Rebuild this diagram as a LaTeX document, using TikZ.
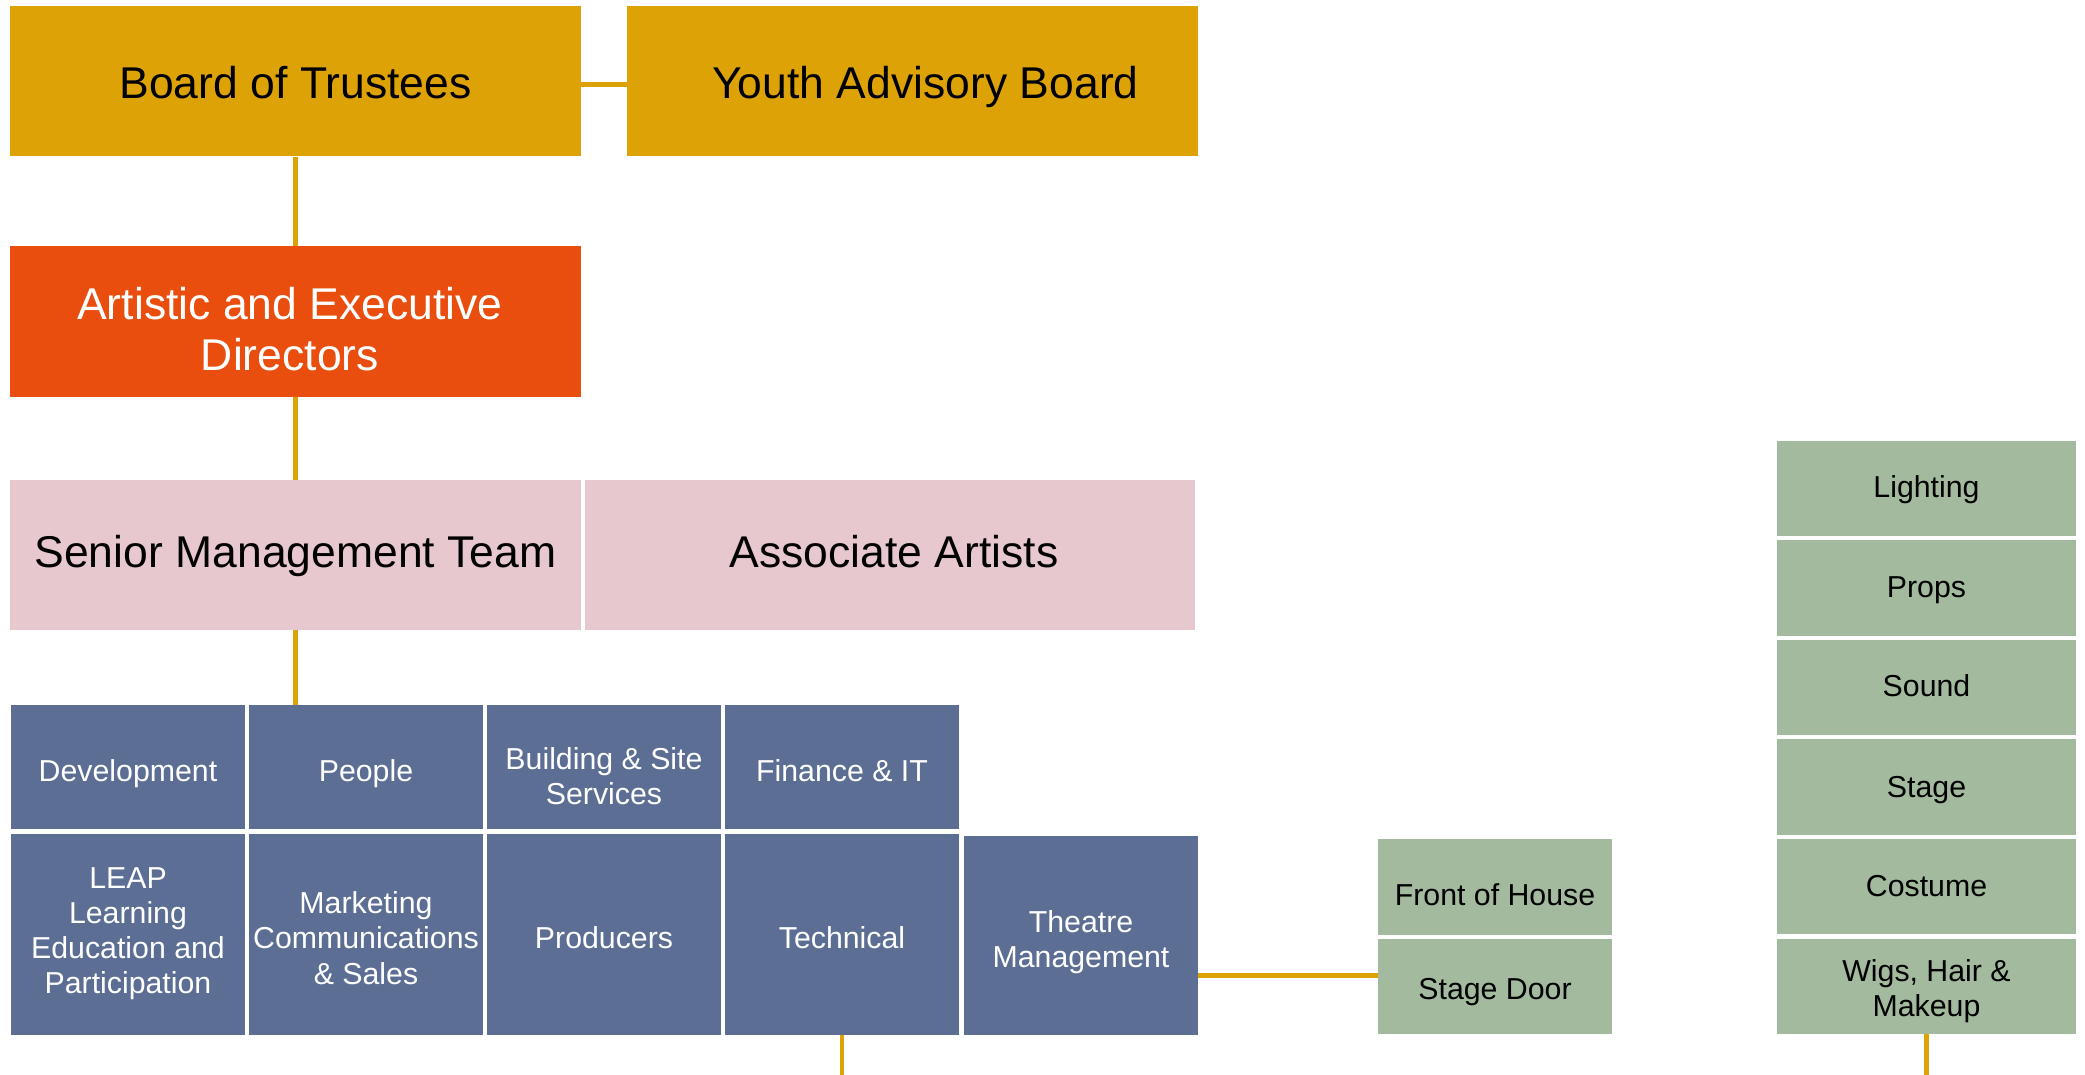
\documentclass[tikz,border=0pt]{standalone}
\usepackage{fontspec}
\setmainfont{Liberation Sans}
\definecolor{cgold}{HTML}{DDA205}
\definecolor{corange}{HTML}{E94E0F}
\definecolor{cpink}{HTML}{E8C8CF}
\definecolor{cblue}{HTML}{5D6E95}
\definecolor{cgreen}{HTML}{A3BA9E}
\newcommand{\mlines}[1]{\begin{tabular}[t]{@{}c@{}}#1\end{tabular}}
\newcommand{\mlinesL}[1]{\begin{tabular}[t]{@{}c@{\hspace{11pt}}}#1\end{tabular}}
\tikzset{
  box/.style={inner sep=0pt, anchor=center},
  capdown/.style={text height=#1pt, text depth=0pt},
  capup/.style={text height=0pt, text depth=#1pt},
  bigtext/.style={font=\fontsize{44.5}{51}\selectfont},
  smalltext/.style={font=\fontsize{30.3}{35.3}\selectfont},
  goldbox/.style={box, bigtext, fill=cgold, text=black, minimum width=571pt, minimum height=150.5pt},
  orangebox/.style={box, bigtext, fill=corange, text=white, minimum width=571pt, minimum height=151pt},
  pinkbox/.style={box, bigtext, fill=cpink, text=black, minimum height=150pt},
  bluebox/.style={box, smalltext, fill=cblue, text=white, minimum width=234pt},
  greenbox/.style={box, smalltext, fill=cgreen, text=black, minimum height=95.5pt},
  conn/.style={draw=cgold, line width=4.5pt}
}
\begin{document}
\begin{tikzpicture}[x=1pt,y=-1pt]
\useasboundingbox (0,0) rectangle (2085,1075);
% top levels
\node[goldbox, capdown=34.3] (bot) at (295.5,81.25) {Board of Trustees};
\node[goldbox, capdown=34.3] (yab) at (912.5,81.25) {\hspace*{26pt}Youth Advisory Board};
\node[orangebox, capup=4.8] (aed) at (295.5,321.5) {\mlinesL{Artistic and Executive\\Directors}};
\node[pinkbox, capdown=24.8, minimum width=571pt] (smt) at (295.5,555) {Senior Management Team};
\node[pinkbox, capdown=24.8, minimum width=610pt] (aa) at (890,555) {\hspace*{8pt}Associate Artists};
% blue row 1
\node[bluebox, capdown=28.6, minimum height=124pt] (dev) at (128,767) {Development};
\node[bluebox, capdown=28.6, minimum height=124pt] (ppl) at (366,767) {People};
\node[bluebox, capdown=5, minimum height=124pt] (bss) at (604,767) {\mlines{Building \& Site\\Services}};
\node[bluebox, capdown=28.6, minimum height=124pt] (fit) at (842,767) {Finance \& IT};
% blue row 2
\node[bluebox, capup=93, minimum height=201pt] (leap) at (128,934.5) {\mlines{LEAP\\Learning\\Education and\\Participation}};
\node[bluebox, capup=42, minimum height=201pt] (mcs) at (366,934.5) {\mlines{Marketing\\Communications\\\& Sales}};
\node[bluebox, capdown=28, minimum height=201pt] (prod) at (604,934.5) {Producers};
\node[bluebox, capdown=28, minimum height=201pt] (tech) at (842,934.5) {Technical};
\node[bluebox, capup=6, minimum height=199pt] (tm) at (1081,935.5) {\mlines{Theatre\\Management}};
% green front of house
\node[greenbox, capdown=36.6, minimum width=234pt, minimum height=96pt] (foh) at (1495,887) {Front of House};
\node[greenbox, capdown=26.6, minimum width=234pt] (sd) at (1495,986.5) {Stage Door};
% green technical column
\node[greenbox, capdown=18.6, minimum width=299pt] (light) at (1926.5,488.5) {Lighting};
\node[greenbox, capdown=18.4, minimum width=299pt] (props) at (1926.5,588) {Props};
\node[greenbox, capdown=18, minimum width=299pt] (sound) at (1926.5,687.5) {Sound};
\node[greenbox, capdown=20.2, minimum width=299pt] (stage) at (1926.5,787) {Stage};
\node[greenbox, capdown=20.2, minimum width=299pt] (cost) at (1926.5,886.5) {Costume};
\node[greenbox, capup=11, minimum width=299pt] (wigs) at (1926.5,986.5) {\mlines{Wigs, Hair \&\\Makeup}};
% connector helpers
\coordinate (jby) at (604,84.5);
\coordinate (jts) at (1240,975.5);
\coordinate (bottomedge) at (0,1075);
% connectors
\draw[conn] (bot.east |- jby) -- (yab.west |- jby);
\draw[conn] (bot.south) -- (aed.north);
\draw[conn] (aed.south) -- (smt.north);
\draw[conn] (smt.south) -- (smt.south |- ppl.north);
\draw[conn] (tm.east |- jts) -- (sd.west |- jts);
\draw[conn] (tech.south) -- (tech.south |- bottomedge);
\draw[conn] (wigs.south) -- (wigs.south |- bottomedge);
\end{tikzpicture}
\end{document}
